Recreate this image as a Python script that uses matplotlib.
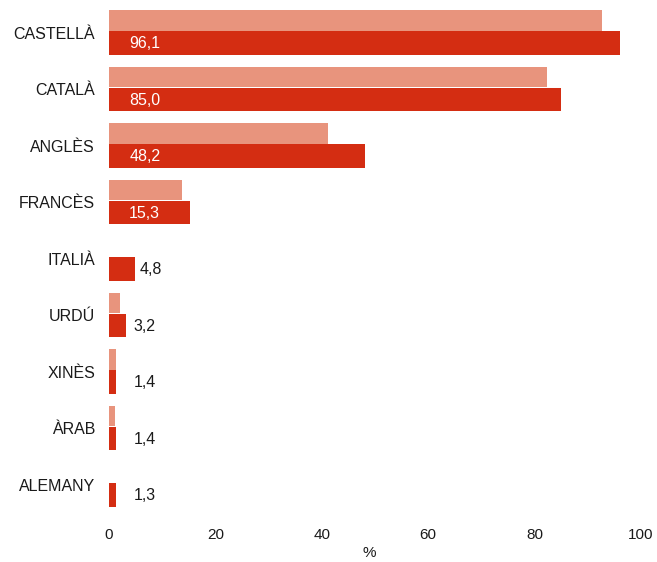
import matplotlib.pyplot as plt
import numpy as np

plt.rcParams["font.family"] = ["Liberation Sans", "DejaVu Sans"]

languages = ["CASTELLÀ", "CATALÀ", "ANGLÈS", "FRANCÈS", "ITALIÀ",
             "URDÚ", "XINÈS", "ÀRAB", "ALEMANY"]
previous = [92.7, 82.3, 41.2, 13.7, np.nan, 2.1, 1.4, 1.2, np.nan]
current = [96.1, 85.0, 48.2, 15.3, 4.8, 3.2, 1.4, 1.4, 1.3]
xticks = [0, 20, 40, 60, 80, 100]

LIGHT = "#E8947D"
DARK = "#D42D12"
TEXT = "#1a1a1a"

fig = plt.figure(figsize=(6.57, 5.62), dpi=100)
ax = fig.add_axes([0.1659, 0.0836, 0.8097, 0.9075])

pos = np.arange(len(languages))
ax.barh(pos - 0.212, previous, height=0.37, color=LIGHT, zorder=1)
ax.barh(pos + 0.185, current, height=0.423, color=DARK, zorder=2)

for p, v in zip(pos, current):
    label = f"{v:.1f}".replace(".", ",")
    if v > 10:
        ax.text(3.8, p + 0.2, label, color="white", fontsize=11.5,
                va="center", ha="left", zorder=3)
    else:
        ax.text(max(v + 1.0, 4.6), p + 0.2, label, color=TEXT,
                fontsize=11.5, va="center", ha="left", zorder=3)

ax.set_xlim(0, 100)
ax.set_ylim(8.54, -0.487)
ax.set_yticks(pos)
ax.set_yticklabels(languages)
ax.set_xticks(xticks)
ax.set_xticklabels([str(t) for t in xticks])
ax.tick_params(axis="both", length=0, colors=TEXT)
ax.tick_params(axis="y", pad=10, labelsize=11.5)
ax.tick_params(axis="x", pad=9, labelsize=11)
ax.set_xlabel("%", fontsize=11, color=TEXT, labelpad=6)
ax.xaxis.set_label_coords(0.489, -0.06)
for s in ax.spines.values():
    s.set_visible(False)

fig.savefig("out.png", dpi=100)
